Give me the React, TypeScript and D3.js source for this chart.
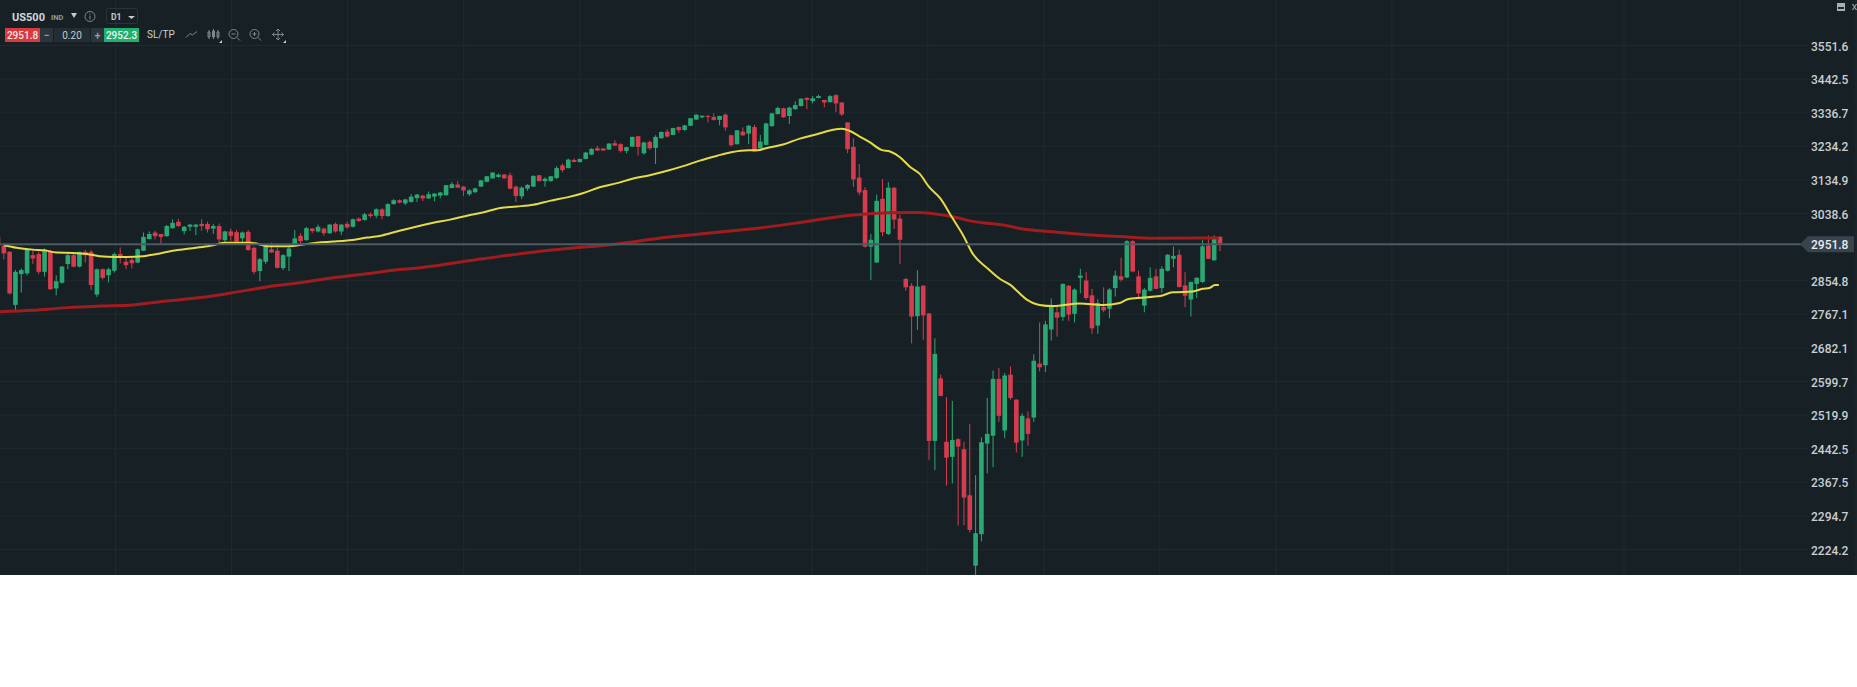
import { useEffect, useRef } from "react";
import * as d3 from "d3";

const opens = [
  2972,2947,2931,2790,2871,2873,2922,2925,2877,2931,
  2833,2848,2898,2922,2891,2931,2931,2817,2884,2868,
  2880,2925,2904,2909,2902,2934,2966,2984,2980,2974,
  2996,3014,2988,3000,3000,3008,3008,2995,3002,2963,
  2987,2985,2968,2986,2942,2879,2904,2938,2934,2887,
  2918,2951,2975,2963,2995,2987,2995,2982,3008,2987,
  3008,3000,3023,3019,3035,3031,3049,3030,3064,3075,
  3066,3070,3081,3088,3080,3085,3088,3089,3110,3120,
  3114,3092,3098,3114,3128,3138,3142,3149,3147,3114,
  3086,3108,3114,3147,3130,3130,3139,3176,3168,3192,
  3186,3195,3208,3227,3226,3223,3242,3239,3219,3232,
  3263,3212,3246,3228,3257,3277,3267,3291,3282,3295,
  3314,3321,3325,3322,3313,3329,3266,3239,3277,3271,
  3291,3227,3237,3294,3331,3349,3325,3346,3356,3381,
  3371,3381,3375,3368,3390,3367,3305,3231,3140,3104,
  2945,2902,3079,2980,3111,3023,2858,2840,2761,2840,
  2768,2459,2606,2457,2423,2463,2440,2338,2190,2255,
  2453,2471,2605,2483,2615,2555,2460,2511,2513,2642,
  2638,2727,2771,2759,2840,2767,2861,2854,2815,2737,
  2785,2780,2834,2865,2862,2960,2865,2788,2827,2865,
  2834,2880,2912,2923,2841,2804,2845,2850,2948,2908,2972,
];

const highs = [
  2977,2954,2933,2882,2886,2940,2936,2931,2940,2936,
  2868,2893,2927,2927,2931,2936,2936,2886,2886,2888,
  2929,2943,2918,2916,2940,2984,2987,2989,2980,3005,
  3021,3022,3002,3008,3008,3021,3014,3008,3009,2989,
  2995,2991,2987,2991,2945,2914,2949,2956,2943,2925,
  2949,2991,2982,3000,2996,3006,2998,3008,3012,3008,
  3014,3023,3026,3039,3040,3052,3052,3066,3078,3077,
  3079,3092,3093,3090,3100,3095,3098,3119,3127,3130,
  3116,3107,3111,3133,3145,3156,3152,3151,3155,3117,
  3115,3121,3147,3148,3141,3145,3174,3182,3196,3197,
  3196,3216,3227,3234,3227,3242,3251,3242,3231,3262,
  3264,3247,3250,3266,3278,3284,3289,3293,3298,3319,
  3330,3326,3329,3333,3326,3333,3268,3282,3290,3298,
  3298,3267,3304,3335,3354,3351,3354,3371,3380,3384,
  3387,3391,3375,3390,3393,3368,3306,3257,3180,3112,
  2980,3091,3136,3127,3112,3034,2861,2847,2881,2842,
  2769,2705,2615,2561,2552,2465,2457,2498,2382,2467,
  2559,2625,2631,2619,2635,2556,2523,2527,2665,2745,
  2749,2807,2785,2846,2842,2833,2885,2876,2832,2805,
  2836,2834,2880,2915,2963,2963,2880,2834,2889,2885,
  2892,2925,2945,2937,2876,2851,2863,2963,2976,2976,2974,
];

const lows = [
  2945,2911,2817,2775,2822,2868,2898,2871,2864,2829,
  2815,2846,2884,2889,2889,2902,2829,2811,2857,2849,
  2875,2900,2884,2886,2900,2934,2965,2965,2952,2972,
  2995,3000,2979,2988,2977,2989,2984,2980,2954,2956,
  2961,2954,2958,2934,2871,2852,2898,2929,2886,2882,
  2879,2949,2952,2961,2982,2984,2975,2980,2984,2977,
  2995,2998,3014,3017,3025,3024,3021,3028,3062,3066,
  3061,3068,3070,3072,3079,3072,3080,3088,3109,3110,
  3087,3087,3095,3113,3126,3137,3140,3137,3106,3070,
  3078,3102,3113,3128,3114,3128,3136,3156,3167,3185,
  3184,3194,3206,3219,3219,3222,3234,3214,3212,3231,
  3205,3208,3222,3180,3256,3259,3266,3274,3280,3294,
  3313,3318,3305,3311,3296,3280,3232,3238,3264,3239,
  3216,3226,3236,3292,3330,3319,3301,3345,3354,3346,
  3364,3380,3352,3367,3337,3325,3212,3113,3089,2943,
  2855,2902,2974,2977,2994,2898,2827,2692,2726,2701,
  2416,2393,2563,2359,2364,2273,2274,2259,2171,2240,
  2386,2400,2503,2465,2555,2433,2423,2448,2503,2623,
  2621,2699,2709,2749,2749,2745,2820,2804,2716,2716,
  2771,2756,2812,2851,2860,2876,2810,2771,2825,2831,
  2822,2878,2889,2835,2784,2760,2808,2848,2911,2907,2933,
];

const closes = [
  2949,2927,2820,2877,2882,2938,2913,2877,2936,2831,
  2852,2891,2922,2891,2931,2922,2842,2884,2861,2884,
  2925,2918,2895,2900,2938,2972,2980,2974,2972,3002,
  3011,3002,3000,3006,3006,3002,2993,3002,2965,2987,
  2975,2959,2984,2936,2877,2911,2947,2929,2888,2922,
  2940,2968,2960,2996,2988,3000,2982,3006,2987,3006,
  2998,3021,3016,3035,3030,3049,3030,3064,3075,3068,
  3077,3085,3091,3080,3092,3094,3097,3118,3121,3111,
  3103,3103,3109,3132,3144,3155,3149,3138,3108,3087,
  3111,3119,3145,3130,3137,3144,3168,3162,3193,3186,
  3195,3214,3225,3220,3220,3241,3235,3219,3230,3261,
  3231,3244,3227,3261,3276,3262,3288,3282,3296,3318,
  3329,3326,3322,3313,3325,3290,3236,3281,3266,3295,
  3217,3247,3302,3333,3350,3321,3351,3359,3379,3375,
  3380,3387,3367,3387,3364,3330,3224,3135,3097,2945,
  2964,3073,2985,3111,3020,2964,2836,2760,2838,2763,
  2459,2666,2564,2421,2461,2446,2333,2264,2257,2456,
  2475,2605,2517,2613,2559,2455,2517,2475,2649,2633,
  2740,2790,2757,2845,2765,2830,2867,2808,2730,2795,
  2776,2830,2867,2856,2960,2878,2820,2830,2861,2832,
  2885,2923,2920,2837,2814,2850,2861,2946,2912,2972,2954,
];

const fastBars = [
  1,3.2,6,8,10,13,15.3,17.5,20,22,25,27.3,30,33,36,37,39,43.3,46.7,50,52.4,54.8,57.6,60,63.4,66,
  69,72,74.8,77.7,80.6,83.3,86.3,89.2,92,94.8,97.8,100.5,103.4,106.4,109,112,115,117.6,120.6,123.5,
  126,129,130.6,132,134.9,137.8,140.7,143.5,145,146.4,148,149.8,151.8,153.3,155,156.7,158.4,160,
  161.9,164,165.8,167.5,170,172.2,173.9,176.8,179,181.3,185.9,189.9,192.8,194,195.7,199.7,201.9,
  205.3,207,208.3,209.1,209.8,
];
const fastValues = [
  2949,2942,2937,2935,2929,2928,2925,2919,2917,2917,2919,2925,2934,2940,2946,2949,2956,2956,2946,2946,2951,2956,2959,2962,2970,2976,
  2989,3001,3011,3020,3031,3040,3053,3057,3062,3073,3083,3095,3112,3124,3137,3147,3160,3173,3190,3204,
  3215,3221,3221,3227,3238,3256,3269,3283,3286,3279,3263,3245,3222,3217,3200,3172,3151,3113,
  3081,3025,2978,2926,2887,2858,2843,2804,2790,2787,2794,2790,2795,2804,2808,2813,2823,
  2825,2832,2835,2842,2842,
];

const slowBars = [
  0,6,11.9,17.5,23.2,29,34.7,40.4,46.2,51.9,57.6,63.4,69,72.5,83.3,91.9,97.8,105.7,115,120.6,126.3,
  132.1,137.8,143.5,150.3,156.2,158.4,161.9,164.1,167.5,173.4,175.6,181.3,187.1,192.8,198.5,209.8,
];
const slowValues = [
  2772,2776,2783,2787,2790,2800,2809,2822,2837,2848,2861,2872,2883,2888,2912,2930,2940,2951,2971,2980,2989,
  2999,3012,3026,3037,3040,3040,3034,3028,3015,3003,2995,2986,2978,2973,2968,2969,
];

const priceTicks = [3551.6,3442.5,3336.7,3234.2,3134.9,3038.6,2854.8,2767.1,2682.1,2599.7,2519.9,2442.5,2367.5,2294.7,2224.2];
const bid = 2951.8;
const ask = 2952.3;
const symbol = "US500";

const width = 1857;
const height = 687;
const chartBottom = 575;
const font = "Roboto, sans-serif";

export default function App() {
  const svgRef = useRef<SVGSVGElement | null>(null);

  useEffect(() => {
    const svg = d3.select(svgRef.current);
    svg.selectAll("*").remove();
    svg.attr("viewBox", `0 0 ${width} ${height}`);

    const x = d3.scaleLinear().domain([0, 210]).range([-2, 1220]);
    const y = d3.scaleLog().domain([2224.2, 3551.6]).range([549, 45]);

    svg.append("rect").attr("width", width).attr("height", chartBottom).attr("fill", "#172125");

    // vertical grid, every 20 bars
    svg.append("g")
      .selectAll("line")
      .data(d3.range(20.2, 320, 19.94))
      .enter()
      .append("line")
      .attr("x1", (d) => x(d))
      .attr("x2", (d) => x(d))
      .attr("y1", 0)
      .attr("y2", chartBottom)
      .attr("stroke", "#1f2a2f");

    // price axis, with its tick lines running back over the plot as the grid
    const axis = svg.append("g")
      .attr("transform", "translate(1808,0)")
      .call(d3.axisRight(y).tickValues(priceTicks).tickFormat(d3.format(".1f")).tickSize(0).tickPadding(3));
    axis.select(".domain").remove();
    axis.selectAll(".tick line").attr("x1", -1808).attr("x2", 0).attr("stroke", "#1f2a2f");
    axis.selectAll("text")
      .attr("dy", "0.42em")
      .attr("fill", "#c9cfd3")
      .style("font-family", font)
      .style("font-size", "12px")
      .style("font-weight", 500);

    const bars = d3.range(opens.length);
    const isUp = (i: number) => closes[i] >= opens[i];
    const green = "#2aa873";
    const red = "#d73c4e";

    const plot = svg.append("g");

    plot.selectAll("line.wick")
      .data(bars)
      .enter()
      .append("line")
      .attr("class", "wick")
      .attr("x1", (i) => x(i))
      .attr("x2", (i) => x(i))
      .attr("y1", (i) => y(highs[i]))
      .attr("y2", (i) => y(lows[i]))
      .attr("stroke", (i) => (isUp(i) ? green : red))
      .attr("stroke-width", 1);

    plot.selectAll("rect.body")
      .data(bars)
      .enter()
      .append("rect")
      .attr("class", "body")
      .attr("x", (i) => x(i) - 2.3)
      .attr("width", 4.6)
      .attr("y", (i) => y(Math.max(opens[i], closes[i])))
      .attr("height", (i) => Math.max(1, y(Math.min(opens[i], closes[i])) - y(Math.max(opens[i], closes[i]))))
      .attr("fill", (i) => (isUp(i) ? green : red));

    const maLine = (xs: number[]) =>
      d3.line<number>()
        .x((_, k) => x(xs[k]))
        .y((d) => y(d))
        .curve(d3.curveMonotoneX);

    plot.append("path")
      .attr("d", maLine(slowBars)(slowValues))
      .attr("fill", "none")
      .attr("stroke", "#a01c1e")
      .attr("stroke-width", 3);

    plot.append("path")
      .attr("d", maLine(fastBars)(fastValues))
      .attr("fill", "none")
      .attr("stroke", "#e6da45")
      .attr("stroke-width", 2);

    // current price line and tag
    const py = y(bid);
    svg.append("line")
      .attr("x1", 0)
      .attr("x2", 1802)
      .attr("y1", py)
      .attr("y2", py)
      .attr("stroke", "#4b5963")
      .attr("stroke-width", 2);
    svg.append("path")
      .attr("d", `M1800,${py} L1808,${py - 8} H1854 V${py + 8} H1808 Z`)
      .attr("fill", "#37444d");
    svg.append("text")
      .attr("x", 1811)
      .attr("y", py + 5)
      .attr("fill", "#e8ebed")
      .style("font-family", font)
      .style("font-size", "12px")
      .style("font-weight", 500)
      .text(d3.format(".1f")(bid));

    // toolbar
    const tb = svg.append("g").style("font-family", font);
    const label = (tx: number, ty: number, s: string, size: number, fill: string, weight = 400, anchor = "start") =>
      tb.append("text")
        .attr("x", tx)
        .attr("y", ty)
        .attr("fill", fill)
        .attr("text-anchor", anchor)
        .style("font-size", `${size}px`)
        .style("font-weight", weight)
        .text(s);
    const box = (bx: number, by: number, w: number, h: number, fill: string) =>
      tb.append("rect").attr("x", bx).attr("y", by).attr("width", w).attr("height", h).attr("fill", fill);
    const icon = (d: string, color = "#7d888d", sw = 1) =>
      tb.append("path").attr("d", d).attr("fill", "none").attr("stroke", color).attr("stroke-width", sw);

    label(12, 21, symbol, 11, "#d4d8da", 700);
    label(51, 20, "IND", 7.5, "#8f999e", 700);
    tb.append("path").attr("d", "M71,13 H77 L74,18 Z").attr("fill", "#c5cacd");
    icon("M95,16.5 a5,5 0 1,1 -10,0 a5,5 0 1,1 10,0 M90,13.5 v1 M90,15.5 v4");
    tb.append("rect")
      .attr("x", 106.5).attr("y", 8.5).attr("width", 31).attr("height", 15).attr("rx", 2)
      .attr("fill", "none").attr("stroke", "#28343a");
    label(111, 20, "D1", 8.5, "#c5cacd", 700);
    tb.append("path").attr("d", "M128,16 H135 L131.5,19 Z").attr("fill", "#c5cacd");

    box(5, 28, 35, 14, "#d93a3e");
    label(22.5, 39, d3.format(".1f")(bid), 10, "#f4e6e6", 500, "middle");
    box(40, 28, 13, 14, "#2b363c");
    label(46.5, 39, "−", 11, "#9aa3a8", 500, "middle");
    box(54, 28, 36, 14, "#232e34");
    label(72, 39, "0.20", 10, "#c5cacd", 400, "middle");
    box(91, 28, 13, 14, "#2b363c");
    label(97.5, 39, "+", 11, "#9aa3a8", 500, "middle");
    box(104, 28, 35, 14, "#20b070");
    label(121.5, 39, d3.format(".1f")(ask), 10, "#eaf6f0", 500, "middle");
    label(147, 38, "SL/TP", 10, "#c9cfd3", 400);

    icon("M186,37.5 L190,33.5 L192.5,35 L197,31.5");
    icon("M209,30 v9 M213.5,29 v10 M218,30 v9 M208,32 h2 v5 h-2 Z M212.5,31 h2 v6 h-2 Z M217,32 h2 v5 h-2 Z");
    tb.append("path").attr("d", "M219,43 h3 v-3 Z").attr("fill", "#c5cacd");
    icon("M238,34 a4.5,4.5 0 1,1 -9,0 a4.5,4.5 0 1,1 9,0 M231.5,34 h4 M237,37.5 L240,40.5");
    icon("M259,34 a4.5,4.5 0 1,1 -9,0 a4.5,4.5 0 1,1 9,0 M252.5,34 h4 M254.5,32 v4 M258,37.5 L261,40.5");
    icon("M272.5,34.5 h11 M278,29 v11 M274.5,32.5 l-2,2 l2,2 M281.5,32.5 l2,2 l-2,2 M276,31 l2,-2 l2,2 M276,38 l2,2 l2,-2");
    tb.append("path").attr("d", "M283,43 h3 v-3 Z").attr("fill", "#c5cacd");

    box(1837, 3, 8, 8, "#a9b0b4");
    box(1838, 7, 6, 2, "#20292e");
    icon("M1852.5,4 L1856.5,10 M1856.5,4 L1852.5,10", "#9aa3a8", 1.2);
  }, []);

  return (
    <svg
      ref={svgRef}
      width={width}
      height={height}
      style={{ position: "absolute", left: 0, top: 0, display: "block" }}
    />
  );
}
